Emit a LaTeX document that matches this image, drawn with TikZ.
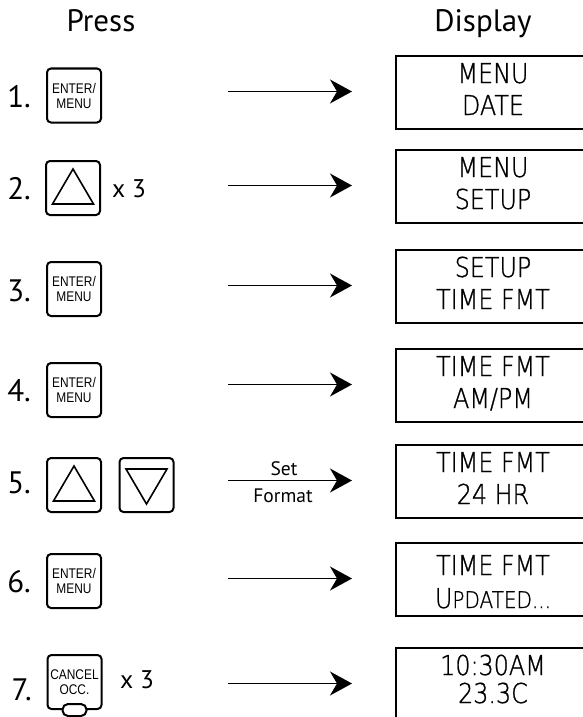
\documentclass[tikz,border=0pt]{standalone}
\usepackage{fontspec}
\setmainfont{PT Sans}
\newfontfamily\lcdfont[FakeStretch=0.87,FakeBold=1]{DejaVu Sans ExtraLight}
\newfontfamily\keyfont[FakeStretch=0.85]{Liberation Sans}
\usetikzlibrary{arrows.meta}
\begin{document}
\begin{tikzpicture}[x=1pt,y=-1pt,
  btn/.style={draw, line width=2pt, rounded corners=4pt, minimum width=54pt,
    minimum height=54pt, inner sep=0pt, align=center,
    font=\keyfont\fontsize{14}{15}\selectfont},
  lcdbox/.style={draw, line width=2pt, minimum width=192pt, minimum height=73pt,
    inner sep=0pt, anchor=north west},
  lcdtxt/.style={anchor=base, inner sep=0pt, font=\lcdfont\fontsize{27.4}{30}\selectfont},
  hdr/.style={anchor=base, inner sep=0pt, font=\fontsize{31}{36}\selectfont},
  num/.style={anchor=base east, inner sep=0pt, font=\fontsize{31}{36}\selectfont},
  times/.style={anchor=base west, inner sep=0pt, font=\fontsize{25.5}{30}\selectfont},
  small/.style={anchor=base, inner sep=0pt, font=\fontsize{19.5}{22}\selectfont},
  arr/.style={line width=1.6pt, shorten >=43pt,
    -{Stealth[length=22pt,width=24pt,inset=7pt]}},
  tri/.style={line width=1.6pt, line join=miter}
]
\useasboundingbox (0,0) rectangle (583,717);

% headers
\node[hdr] (press) at (101,32) {Press};
\node[hdr] (disp) at (483,32) {Display};

% row numbers
\node[num] (n1) at (31,107) {1.};
\node[num] (n2) at (31,199) {2.};
\node[num] (n3) at (31,301) {3.};
\node[num] (n4) at (31,401) {4.};
\node[num] (n5) at (31,493) {5.};
\node[num] (n6) at (31,592) {6.};
\node[num] (n7) at (32,700) {7.};

% buttons
\node[btn] (b1) at (74,95.5) {ENTER/\\MENU};
\node[btn] (b2) at (73,188) {};
\node[btn] (b3) at (74,289) {ENTER/\\MENU};
\node[btn] (b4) at (74,390) {ENTER/\\MENU};
\node[btn] (b5a) at (74,485) {};
\node[btn] (b5b) at (146.5,485) {};
\node[btn] (b6) at (74,581) {ENTER/\\MENU};
\node[btn] (b7) at (74.5,682) {CANCEL\\OCC.};
\node[draw, line width=2pt, fill=white, rounded corners=5.5pt, minimum width=24pt,
  minimum height=12pt, inner sep=0pt] (ov) at (b7.south) {};

% triangles
\draw[tri] ([shift={(0,-19)}]b2.center) -- ([shift={(-20.5,16)}]b2.center)
  -- ([shift={(20.5,16)}]b2.center) -- cycle;
\draw[tri] ([shift={(0,-19)}]b5a.center) -- ([shift={(-20.5,16)}]b5a.center)
  -- ([shift={(20.5,16)}]b5a.center) -- cycle;
\draw[tri] ([shift={(0,19)}]b5b.center) -- ([shift={(-20.5,-16)}]b5b.center)
  -- ([shift={(20.5,-16)}]b5b.center) -- cycle;

% x 3
\node[times] (x2) at (112,197) {x 3};
\node[times] (x7) at (120,688) {x 3};

% display boxes
\node[lcdbox] (d1) at (395,55) {};
\node[lcdbox] (d2) at (395,149) {};
\node[lcdbox] (d3) at (395,249) {};
\node[lcdbox] (d4) at (395,348) {};
\node[lcdbox] (d5) at (395,444) {};
\node[lcdbox] (d6) at (395,542) {};
\node[lcdbox] (d7) at (395,647) {};

% display texts
\node[lcdtxt] (t1a) at (493,83) {MENU};
\node[lcdtxt] (t1b) at (493,115) {DATE};
\node[lcdtxt] (t2a) at (493,177) {MENU};
\node[lcdtxt] (t2b) at (493,209) {SETUP};
\node[lcdtxt] (t3a) at (493,277) {SETUP};
\node[lcdtxt] (t3b) at (493,309) {TIME FMT};
\node[lcdtxt] (t4a) at (493,376) {TIME FMT};
\node[lcdtxt] (t4b) at (493,408) {AM/PM};
\node[lcdtxt] (t5a) at (493,472) {TIME FMT};
\node[lcdtxt] (t5b) at (493,504) {24 HR};
\node[lcdtxt] (t6a) at (493,575) {TIME FMT};
\node[lcdtxt] (t6b) at (493,608) {U{\fontsize{23}{26}\selectfont PDATED...}};
\node[lcdtxt] (t7a) at (493,675) {10:30AM};
\node[lcdtxt] (t7b) at (493,703) {23.3C};

% arrow starts
\coordinate (s1) at (228,91.5);
\coordinate (s2) at (228,185.5);
\coordinate (s3) at (228,285.5);
\coordinate (s4) at (228,384.5);
\coordinate (s5) at (228,480.5);
\coordinate (s6) at (228,578.5);
\coordinate (s7) at (228,683.5);

\draw[arr] (s1) -- (s1 -| d1.west);
\draw[arr] (s2) -- (s2 -| d2.west);
\draw[arr] (s3) -- (s3 -| d3.west);
\draw[arr] (s4) -- (s4 -| d4.west);
\draw[arr] (s5) -- (s5 -| d5.west);
\draw[arr] (s6) -- (s6 -| d6.west);
\draw[arr] (s7) -- (s7 -| d7.west);

\node[small] (set) at (284,475) {Set};
\node[small] (fmt) at (283,502) {Format};
\end{tikzpicture}
\end{document}
